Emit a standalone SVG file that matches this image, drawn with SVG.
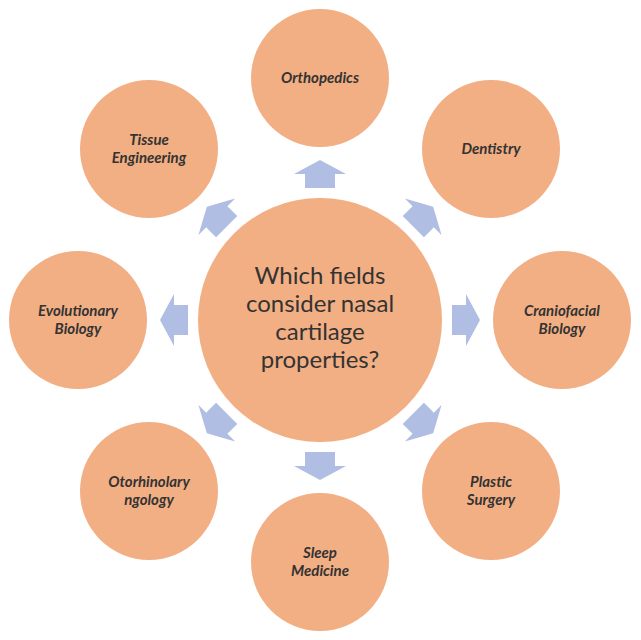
<svg xmlns="http://www.w3.org/2000/svg" xmlns:xlink="http://www.w3.org/1999/xlink" width="641" height="640" viewBox="0 0 641 640">
<style>
.node{fill:#F3AF84}
.arrow{fill:#B1BEE4}
.lbl{font-family:Lato,"Open Sans","Liberation Sans",sans-serif;font-weight:bold;font-style:italic;font-size:15px;fill:#333333;text-anchor:middle}
.ctr{font-family:Lato,"Open Sans","Liberation Sans",sans-serif;font-size:24px;fill:#333333;text-anchor:middle}
</style>
<defs>
<polygon id="arr" class="arrow" points="320,160 346,174 335,174 335,188 305,188 305,174 294,174"/>
</defs>
<rect width="641" height="640" fill="#ffffff"/>
<g id="connectors">
<use xlink:href="#arr" href="#arr"/>
<use xlink:href="#arr" href="#arr" transform="rotate(45 320 320)"/>
<use xlink:href="#arr" href="#arr" transform="rotate(90 320 320)"/>
<use xlink:href="#arr" href="#arr" transform="rotate(135 320 320)"/>
<use xlink:href="#arr" href="#arr" transform="rotate(180 320 320)"/>
<use xlink:href="#arr" href="#arr" transform="rotate(225 320 320)"/>
<use xlink:href="#arr" href="#arr" transform="rotate(270 320 320)"/>
<use xlink:href="#arr" href="#arr" transform="rotate(315 320 320)"/>
</g>
<g id="center">
<circle class="node" cx="320" cy="320" r="122"/>
<text class="ctr" x="320" y="284">Which fields</text>
<text class="ctr" x="320" y="312">consider nasal</text>
<text class="ctr" x="320" y="340">cartilage</text>
<text class="ctr" x="320" y="368">properties?</text>
</g>
<g id="orthopedics">
<circle class="node" cx="320" cy="78" r="69"/>
<text class="lbl" x="320" y="83">Orthopedics</text>
</g>
<g id="dentistry">
<circle class="node" cx="491" cy="149" r="69"/>
<text class="lbl" x="491" y="154">Dentistry</text>
</g>
<g id="craniofacial">
<circle class="node" cx="562" cy="320" r="69"/>
<text class="lbl" x="562" y="316">Craniofacial</text>
<text class="lbl" x="562" y="334">Biology</text>
</g>
<g id="plastic">
<circle class="node" cx="491" cy="491" r="69"/>
<text class="lbl" x="491" y="487">Plastic</text>
<text class="lbl" x="491" y="505">Surgery</text>
</g>
<g id="sleep">
<circle class="node" cx="320" cy="562" r="69"/>
<text class="lbl" x="320" y="558">Sleep</text>
<text class="lbl" x="320" y="576">Medicine</text>
</g>
<g id="otorhino">
<circle class="node" cx="149" cy="491" r="69"/>
<text class="lbl" x="149" y="487">Otorhinolary</text>
<text class="lbl" x="149" y="505">ngology</text>
</g>
<g id="evolutionary">
<circle class="node" cx="78" cy="320" r="69"/>
<text class="lbl" x="78" y="316">Evolutionary</text>
<text class="lbl" x="78" y="334">Biology</text>
</g>
<g id="tissue">
<circle class="node" cx="149" cy="149" r="69"/>
<text class="lbl" x="149" y="145">Tissue</text>
<text class="lbl" x="149" y="163">Engineering</text>
</g>
</svg>
